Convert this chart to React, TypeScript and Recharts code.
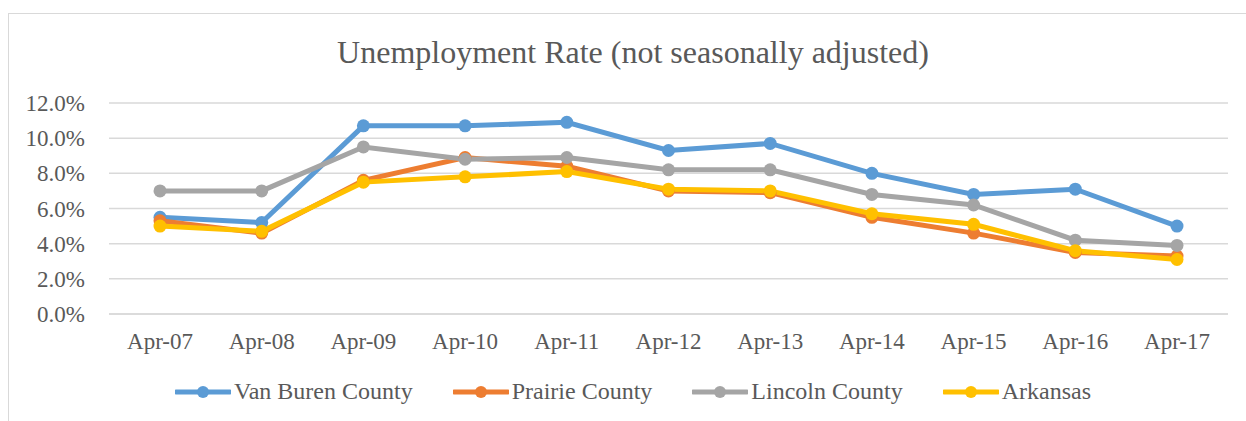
import { LineChart, Line, XAxis, YAxis, CartesianGrid, Legend } from 'recharts';

const months = ['Apr-07', 'Apr-08', 'Apr-09', 'Apr-10', 'Apr-11', 'Apr-12', 'Apr-13', 'Apr-14', 'Apr-15', 'Apr-16', 'Apr-17'];
const vanBuren = [5.5, 5.2, 10.7, 10.7, 10.9, 9.3, 9.7, 8.0, 6.8, 7.1, 5.0];
const prairie = [5.3, 4.6, 7.6, 8.9, 8.4, 7.0, 6.9, 5.5, 4.6, 3.5, 3.3];
const lincoln = [7.0, 7.0, 9.5, 8.8, 8.9, 8.2, 8.2, 6.8, 6.2, 4.2, 3.9];
const arkansas = [5.0, 4.7, 7.5, 7.8, 8.1, 7.1, 7.0, 5.7, 5.1, 3.6, 3.1];
const yTicks = [0, 2, 4, 6, 8, 10, 12];

const series = [
  { key: 'vanBuren', name: 'Van Buren County', color: '#5B9BD5' },
  { key: 'prairie', name: 'Prairie County', color: '#ED7D31' },
  { key: 'lincoln', name: 'Lincoln County', color: '#A5A5A5' },
  { key: 'arkansas', name: 'Arkansas', color: '#FFC000' },
];

const data = months.map((m, i) => ({
  month: m,
  vanBuren: vanBuren[i],
  prairie: prairie[i],
  lincoln: lincoln[i],
  arkansas: arkansas[i],
}));

const font = '"Liberation Serif", "Times New Roman", serif';
const textColor = '#595959';

function LegendContent() {
  return (
    <div style={{ display: 'flex', justifyContent: 'center', gap: 40, fontFamily: font, fontSize: 24, color: textColor }}>
      {series.map((s) => (
        <div key={s.key} style={{ display: 'flex', alignItems: 'center' }}>
          <svg width={56} height={16} style={{ marginRight: 3 }}>
            <line x1={1} y1={8} x2={55} y2={8} stroke={s.color} strokeWidth={5} strokeLinecap="round" />
            <circle cx={28} cy={8} r={6} fill={s.color} />
          </svg>
          <span>{s.name}</span>
        </div>
      ))}
    </div>
  );
}

export default function App() {
  return (
    <div style={{ position: 'absolute', left: 0, top: 0, width: 1246, height: 421, background: '#fff', overflow: 'hidden' }}>
      <div style={{ position: 'absolute', left: 8, top: 13, right: -10, bottom: -10, borderTop: '1.5px solid #d9d9d9', borderLeft: '1.5px solid #d9d9d9' }} />
      <div style={{ position: 'absolute', left: 0, width: 1266, top: 34, textAlign: 'center', fontFamily: font, fontSize: 32, color: textColor, lineHeight: '36px' }}>
        Unemployment Rate (not seasonally adjusted)
      </div>
      <div style={{ position: 'absolute', left: 0, top: 0 }}>
        <LineChart width={1246} height={421} data={data} margin={{ top: 103, right: 18, left: 0, bottom: 37 }}>
          <CartesianGrid horizontal vertical={false} stroke="#d9d9d9" strokeWidth={1.5} />
          <XAxis
            dataKey="month"
            axisLine={{ stroke: '#d9d9d9', strokeWidth: 1.5 }}
            tickLine={false}
            tickMargin={13}
            height={40}
            padding={{ left: 51, right: 51 }}
            tick={{ fill: textColor, fontSize: 23, fontFamily: font }}
          />
          <YAxis
            width={109}
            domain={[0, 12]}
            ticks={yTicks}
            axisLine={false}
            tickLine={false}
            tickMargin={18}
            tickFormatter={(v: number) => v.toFixed(1) + '%'}
            tick={{ fill: textColor, fontSize: 23, fontFamily: font }}
          />
          <Legend
            verticalAlign="bottom"
            content={LegendContent}
            wrapperStyle={{ top: 378, left: 0, width: 1266, height: 30 }}
          />
          {series.map((s) => (
            <Line
              key={s.key}
              type="linear"
              dataKey={s.key}
              name={s.name}
              stroke={s.color}
              strokeWidth={5}
              dot={{ r: 6.5, fill: s.color, stroke: s.color, strokeWidth: 0 }}
              activeDot={false}
              isAnimationActive={false}
            />
          ))}
        </LineChart>
      </div>
    </div>
  );
}
